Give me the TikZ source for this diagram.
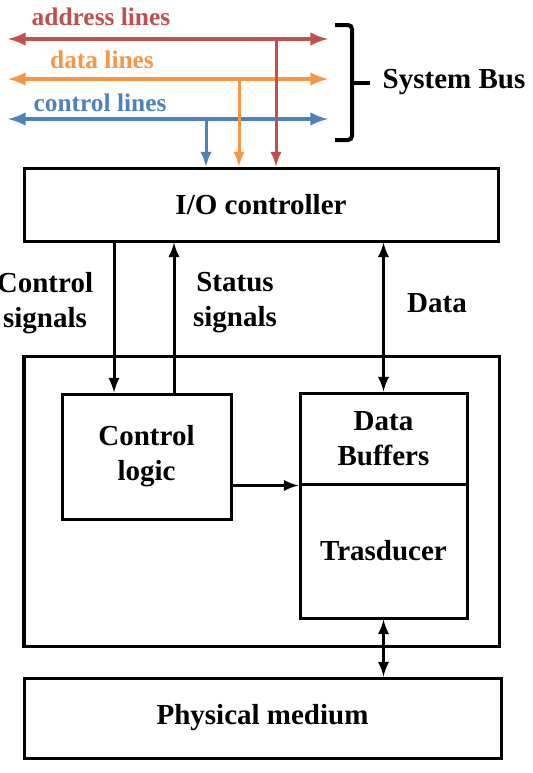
\documentclass[tikz,border=0pt]{standalone}
\usepackage{fontspec}
\setmainfont{Liberation Serif}
\definecolor{addrred}{RGB}{192,80,77}
\definecolor{dataorange}{RGB}{247,150,70}
\definecolor{ctrlblue}{RGB}{79,129,189}

\begin{document}
\begin{tikzpicture}[x=5pt, y=5pt, >=latex]
            \tikzstyle{every node}+=[inner sep=0pt, align=center, font=\fontsize{14.5}{17.5}\selectfont\bfseries]
            \tikzstyle{block}=[draw=black, line width=1.5pt, rectangle]
            \tikzstyle{link}=[black, line width=1.5pt]
            \tikzstyle{bus}=[line width=2pt, <->]
            \tikzstyle{drop}=[line width=1.5pt, ->]
            \tikzstyle{buslabel}=[font=\fontsize{12.7}{15}\selectfont\bfseries]
            \useasboundingbox (0,0) rectangle (53.3,-77.3);
            \coordinate (al) at (0.8,-3.9);
            \coordinate (ar) at (32.8,-3.9);
            \coordinate (dl) at (0.8,-7.9);
            \coordinate (dr) at (32.8,-7.9);
            \coordinate (cl) at (0.8,-11.9);
            \coordinate (cr) at (32.8,-11.9);
            \draw [bus, addrred] (al) -- (ar);
            \draw [bus, dataorange] (dl) -- (dr);
            \draw [bus, ctrlblue] (cl) -- (cr);
            \node [buslabel, text=addrred] (addr) at (10.1,-1.7) {address lines};
            \node [buslabel, text=dataorange] (data) at (10.2,-6.0) {data lines};
            \node [buslabel, text=ctrlblue] (ctrl lines) at (10.0,-10.3) {control lines};
            \draw [black, line width=2pt, rounded corners=2pt] (33.5,-2.5) -- (35.2,-2.5) -- (35.2,-8.3) -- (35.2,-14.0) -- (33.5,-14.0);
            \draw [black, line width=2pt] (35.2,-8.3) -- (37.0,-8.3);
            \node (sb) at (45.4,-8.2) {System Bus};
            \node [block, minimum width=237pt, minimum height=36.5pt] (io) at (26.1,-20.45) {I/O controller};
            \draw [drop, addrred] (ar -| 27.6,0) -- (io.north -| 27.6,0);
            \draw [drop, dataorange] (dr -| 23.9,0) -- (io.north -| 23.9,0);
            \draw [drop, ctrlblue] (cr -| 20.6,0) -- (io.north -| 20.6,0);
            \node [block, minimum width=237.5pt, minimum height=145pt] (dev) at (26.15,-50.1) {};
            \node [block, minimum width=84.5pt, minimum height=62.5pt] (ctrl) at (14.65,-45.65) {Control\\logic};
            \node [block, minimum width=83.5pt, minimum height=45.5pt] (buf) at (38.35,-43.85) {Data\\Buffers};
            \node [block, minimum width=83.5pt, minimum height=67pt] (trans) at (38.35,-55.1) {Trasducer};
            \node [block, minimum width=238.5pt, minimum height=40pt] (phys) at (26.25,-71.8) {Physical medium};
            \draw [link, ->] (io.south -| 11.4,0) -- (ctrl.north -| 11.4,0);
            \draw [link, ->] (ctrl.north -| 17.4,0) -- (io.south -| 17.4,0);
            \draw [link, <->] (io.south -| buf.north) -- (buf.north);
            \draw [link, ->] (ctrl.east |- buf.south west) -- (buf.south west);
            \draw [link, <->] (trans.south) -- (phys.north -| trans.south);
            \node (cs) at (4.5,-30.35) {Control\\signals};
            \node (ss) at (23.5,-30.3) {Status\\signals};
            \node (ds) at (43.7,-30.3) {Data};
\end{tikzpicture}
\end{document}
